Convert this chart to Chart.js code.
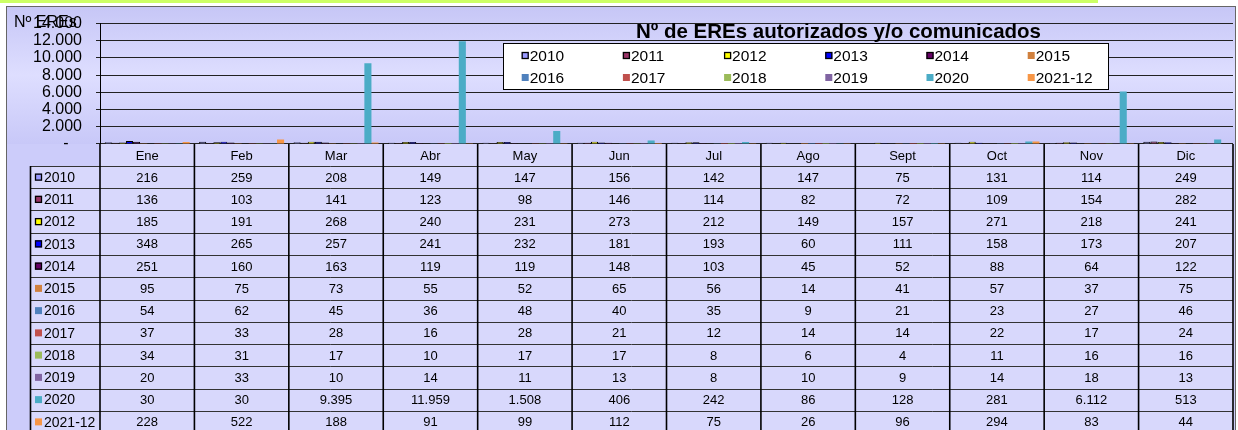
<!DOCTYPE html>
<html>
<head>
<meta charset="utf-8">
<script src="https://cdn.jsdelivr.net/npm/chart.js@4.4.0/dist/chart.umd.min.js"></script>
<style>
  html, body { margin: 0; padding: 0; background: #fff; }
  canvas { display: block; }
</style>
</head>
<body>
<canvas id="chart" width="1238" height="430"></canvas>
<script>
// data
const months = ['Ene', 'Feb', 'Mar', 'Abr', 'May', 'Jun', 'Jul', 'Ago', 'Sept', 'Oct', 'Nov', 'Dic'];
const seriesNames = ['2010', '2011', '2012', '2013', '2014', '2015', '2016', '2017', '2018', '2019', '2020', '2021-12'];

const s2010 = [216, 259, 208, 149, 147, 156, 142, 147, 75, 131, 114, 249];
const s2011 = [136, 103, 141, 123, 98, 146, 114, 82, 72, 109, 154, 282];
const s2012 = [185, 191, 268, 240, 231, 273, 212, 149, 157, 271, 218, 241];
const s2013 = [348, 265, 257, 241, 232, 181, 193, 60, 111, 158, 173, 207];
const s2014 = [251, 160, 163, 119, 119, 148, 103, 45, 52, 88, 64, 122];
const s2015 = [95, 75, 73, 55, 52, 65, 56, 14, 41, 57, 37, 75];
const s2016 = [54, 62, 45, 36, 48, 40, 35, 9, 21, 23, 27, 46];
const s2017 = [37, 33, 28, 16, 28, 21, 12, 14, 14, 22, 17, 24];
const s2018 = [34, 31, 17, 10, 17, 17, 8, 6, 4, 11, 16, 16];
const s2019 = [20, 33, 10, 14, 11, 13, 8, 10, 9, 14, 18, 13];
const s2020 = [30, 30, 9395, 11959, 1508, 406, 242, 86, 128, 281, 6112, 513];
const s2021 = [228, 522, 188, 91, 99, 112, 75, 26, 96, 294, 83, 44];

const seriesValues = [s2010, s2011, s2012, s2013, s2014, s2015, s2016, s2017, s2018, s2019, s2020, s2021];

const seriesColors = ['#9999ff', '#993366', '#ffff00', '#0000ff', '#660066', '#d0803e',
  '#4f81bd', '#c0504d', '#9bbb59', '#8064a2', '#4bacc6', '#f79646'];
const outlined = [true, true, true, true, true, false, false, false, false, false, false, false];

const FONT = '"Liberation Sans", Arial, Helvetica, sans-serif';
const W = 1238, H = 430;

function fmt(v) {
  return String(v).replace(/\B(?=(\d{3})+(?!\d))/g, '.');
}

function marker(c, x, y, i) {
  c.fillStyle = seriesColors[i];
  c.fillRect(x, y, 7, 7);
  if (outlined[i]) {
    c.strokeStyle = '#000';
    c.lineWidth = 1.3;
    c.strokeRect(x + 0.5, y + 0.5, 6, 6);
  }
}

const backdrop = {
  id: 'backdrop',
  beforeDraw(chart) {
    const c = chart.ctx, a = chart.chartArea;
    c.save();
    c.fillStyle = '#fff';
    c.fillRect(0, 0, W, H);
    c.fillStyle = '#ccff66';
    c.fillRect(0, 0, 1098, 3);
    const g = c.createLinearGradient(0, 6, 0, a.bottom);
    g.addColorStop(0, '#c6c6f6');
    g.addColorStop(0.5, '#dedeff');
    g.addColorStop(1, '#c8c8f8');
    c.fillStyle = g;
    c.fillRect(6, 6, 1230, a.bottom - 6);
    c.fillStyle = '#ccccfa';
    c.fillRect(6, a.bottom, 1230, H - a.bottom);
    c.strokeStyle = '#666';
    c.lineWidth = 1;
    c.strokeRect(6.5, 6.5, 1229, H);
    c.restore();
  }
};

const overlay = {
  id: 'overlay',
  afterDraw(chart) {
    const c = chart.ctx, a = chart.chartArea, x = chart.scales.x;
    const colW = (a.right - a.left) / months.length;
    const top = a.bottom, headH = 22, rowH = 22.25, labL = 30;
    c.save();

    // table cells
    c.fillStyle = '#d8d8fc';
    c.fillRect(a.left, top, a.right - a.left, H - top);
    c.fillRect(labL, top + headH, a.left - labL, H - top - headH);

    c.fillStyle = '#000';
    c.textBaseline = 'middle';
    c.textAlign = 'center';
    c.font = '13px ' + FONT;
    months.forEach((m, i) => c.fillText(m, x.getPixelForValue(i), top + headH / 2 + 1));

    seriesNames.forEach((name, r) => {
      const y0 = top + headH + r * rowH;
      const cy = y0 + rowH / 2 + 1;
      marker(c, 35, cy - 4.5, r);
      c.fillStyle = '#000';
      c.textAlign = 'left';
      c.font = '14px ' + FONT;
      c.fillText(name, 44, cy);
      c.textAlign = 'center';
      c.font = '13px ' + FONT;
      seriesValues[r].forEach((v, i) => c.fillText(fmt(v), x.getPixelForValue(i), cy));
    });

    // horizontal lines
    c.strokeStyle = '#333';
    c.lineWidth = 1;
    for (let r = 0; r <= seriesNames.length; r++) {
      const y = Math.round(top + headH + r * rowH) + 0.5;
      c.beginPath();
      c.moveTo(labL, y);
      c.lineTo(a.right, y);
      c.stroke();
    }
    // vertical lines
    c.strokeStyle = '#000';
    c.lineWidth = 1.6;
    for (let i = 0; i <= months.length; i++) {
      const xx = a.left + i * colW;
      c.beginPath();
      c.moveTo(xx, top);
      c.lineTo(xx, H);
      c.stroke();
    }
    c.beginPath();
    c.moveTo(labL + 0.5, top + headH);
    c.lineTo(labL + 0.5, H);
    c.stroke();

    // y axis title
    c.textAlign = 'left';
    c.textBaseline = 'alphabetic';
    c.font = '16px ' + FONT;
    c.fillText('Nº EREs', 14, 26.5);

    // chart title
    c.textAlign = 'center';
    c.font = 'bold 20.5px ' + FONT;
    c.fillText('Nº de EREs autorizados y/o comunicados', 838.5, 37.5);

    // legend
    c.fillStyle = '#fff';
    c.fillRect(503, 43, 605, 46);
    c.strokeStyle = '#000';
    c.lineWidth = 1;
    c.strokeRect(503.5, 43.5, 605, 46);
    c.font = '15.5px ' + FONT;
    c.textAlign = 'left';
    c.textBaseline = 'middle';
    seriesNames.forEach((name, i) => {
      const col = i % 6, row = Math.floor(i / 6);
      const lx = 521.7 + col * 101.2;
      const ly = row === 0 ? 55.5 : 77.5;
      marker(c, lx, ly - 3.5, i);
      c.fillStyle = '#000';
      c.fillText(name, lx + 8, ly + 1);
    });

    c.restore();
  }
};

new Chart(document.getElementById('chart'), {
  type: 'bar',
  data: {
    labels: months,
    datasets: seriesNames.map((name, i) => ({
      label: name,
      data: seriesValues[i],
      backgroundColor: seriesColors[i],
      borderColor: '#000',
      borderWidth: outlined[i] ? 1 : 0,
      categoryPercentage: 0.9,
      barPercentage: 1.0
    }))
  },
  options: {
    responsive: false,
    animation: false,
    devicePixelRatio: 1,
    events: [],
    layout: { padding: { left: 0, top: 15, right: 5, bottom: 286 } },
    plugins: {
      legend: { display: false },
      title: { display: false },
      tooltip: { enabled: false }
    },
    scales: {
      x: { display: false },
      y: {
        min: 0,
        max: 14000,
        ticks: {
          stepSize: 2000,
          autoSkip: false,
          color: '#000',
          padding: 14,
          font: { family: FONT, size: 16 },
          callback: v => v === 0 ? '-   ' : fmt(v)
        },
        grid: { color: '#222', lineWidth: 1, tickLength: 4 },
        border: { color: '#000', width: 1 },
        afterFit(s) { s.width = 100; }
      }
    }
  },
  plugins: [backdrop, overlay]
});
</script>
</body>
</html>
